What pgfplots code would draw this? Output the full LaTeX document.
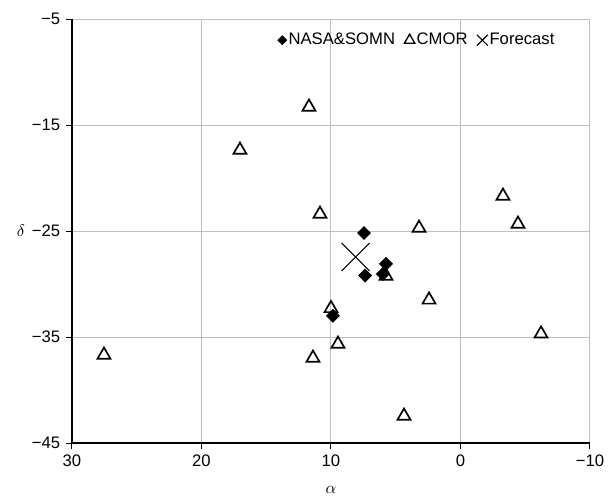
\documentclass[border=0pt]{standalone}
\usepackage{fontspec}
\setmainfont{Liberation Sans}
\usepackage{pgfplots}
\pgfplotsset{compat=1.18}
\begin{document}
\begin{tikzpicture}
\begin{axis}[
  scale only axis, width=310.8pt, height=254.4pt,
  x dir=reverse, xmin=-10, xmax=30, ymin=-45, ymax=-5,
  xtick={-10,0,10,20,30}, xticklabels={−10,0,10,20,30},
  ytick={-45,-35,-25,-15,-5}, yticklabels={−45,−35,−25,−15,−5},
  grid=major, major grid style={black!25, line width=0.6pt},
  axis x line*=bottom, axis y line*=left,
  axis line style={black, line width=0.7pt, -},
  tick align=outside, major tick length=3.6pt,
  tick style={black, line width=0.6pt},
  tick label style={font=\fontsize{10}{12}\selectfont},
  xlabel={$\alpha$}, ylabel={$\delta$},
  every axis x label/.style={at={(axis description cs:0.5,-0.111)}, anchor=center},
  every axis y label/.style={at={(axis description cs:-0.0985,0.5)}, anchor=center},
  legend style={draw=none, fill=none, at={(axis description cs:0.387,0.95)}, anchor=west,
    legend columns=-1, font=\fontsize{10}{12}\selectfont,
    /tikz/every even column/.append style={column sep=4.5pt},
    nodes={inner sep=1.1pt}},
  legend image code/.code={\draw plot coordinates {(0.1cm,0cm)};},
  clip=false,
]
\addlegendimage{only marks, mark=square*, mark size=1.9pt, mark options={rotate=45, fill=black, draw=black}}
\addlegendentry{NASA\&SOMN}
\addlegendimage{only marks, mark=triangle, mark size=3.6pt, mark options={draw=black, line width=0.8pt}}
\addlegendentry{CMOR}
\addlegendimage{only marks, mark=x, mark size=4.6pt, mark options={draw=black, line width=0.7pt}}
\addlegendentry{Forecast}

% CMOR
\addplot[forget plot, only marks, mark=triangle, mark size=4.5pt, mark options={draw=black, line width=1pt}] coordinates {
(27.53,-36.7) (11.39,-36.98) (9.46,-35.66) (11.70,-13.3) (17.03,-17.36)
(10.85,-23.4) (3.20,-24.72) (-3.28,-21.7) (-4.44,-24.34) (2.43,-31.5)
(-6.22,-34.7) (4.36,-42.45) (5.75,-29.25) (10.0,-32.3)
};
% NASA&SOMN
\addplot[forget plot, only marks, mark=square*, mark size=2.75pt, mark options={rotate=45, fill=black, draw=black}] coordinates {
(7.45,-25.19) (7.37,-29.2) (5.75,-28.1) (6.0,-29.06) (9.85,-33.0)
};
% Forecast
\addplot[forget plot, only marks, mark=x, mark size=11.9pt, mark options={draw=black, line width=0.6pt}] coordinates {
(8.1,-27.45)
};
\end{axis}
\pgfresetboundingbox
\path (-43.2pt,-32.4pt) rectangle (321.6pt,265.8pt);
\end{tikzpicture}
\end{document}
